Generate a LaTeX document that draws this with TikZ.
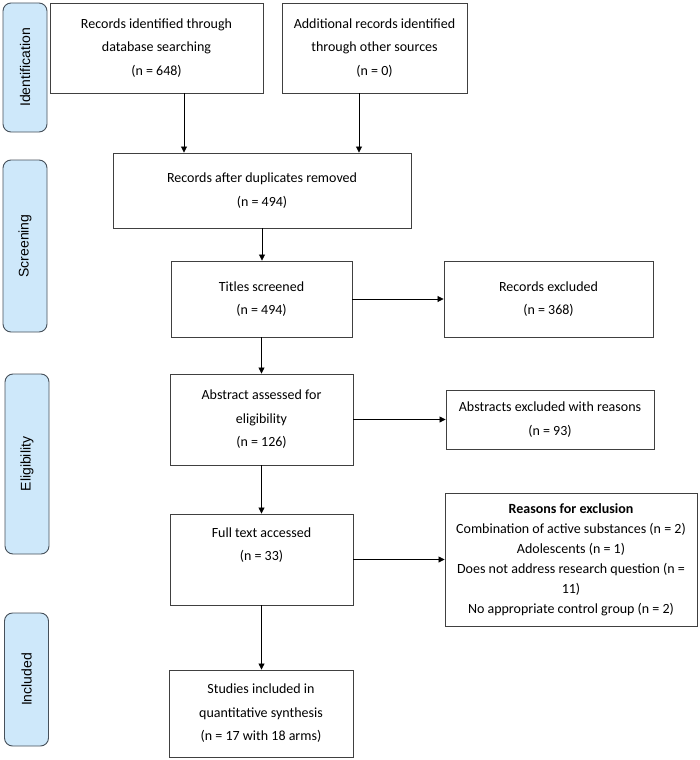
\documentclass[tikz,border=0pt]{standalone}
\usepackage{fontspec}
\setmainfont{Carlito}
\newfontfamily\stagefont{Liberation Sans}
\usepackage{tikz}
\usetikzlibrary{arrows.meta,positioning}
\definecolor{stageblue}{RGB}{206,232,250}
\definecolor{stageedge}{RGB}{70,80,90}
\definecolor{boxedge}{RGB}{64,64,64}

\begin{document}
\begin{tikzpicture}[x=1pt, y=-1pt,
        box/.style={draw=boxedge, line width=0.9pt, inner sep=0pt, align=center,
            font=\fontsize{14}{23.5}\selectfont},
        stage/.style={draw=stageedge, fill=stageblue, line width=0.9pt, rounded corners=8pt,
            rotate=90, minimum height=44, font=\stagefont\fontsize{14}{17}\selectfont},
        arrow/.style={-{Triangle[length=6pt, width=6pt]}, line width=0.8pt}
    ]
        \useasboundingbox (0,0) rectangle (700,760);

        % Phasen links
        \node[stage, minimum width=129] (ident) at (25,67.5) {Identification};
        \node[stage, minimum width=172] (screen) at (25,246) {Screening};
        \node[stage, minimum width=180] (elig) at (27,464) {Eligibility};
        \node[stage, minimum width=133] (incl) at (26.5,679.5) {Included};

        % Identifikation
        \node[box, minimum width=213, minimum height=90] (db) at (156.5,48)
            {Records identified through\\database searching\\(n = 648)};
        \node[box, minimum width=185, minimum height=90] (other) at (374.5,48)
            {Additional records identified\\through other sources\\(n = 0)};

        % Screening
        \node[box, minimum width=298, minimum height=75] (dup) at (262,190.5)
            {Records after duplicates removed\\(n = 494)};
        \node[box, minimum width=181, minimum height=76] (titles) at (261.5,299)
            {Titles screened\\(n = 494)};
        \node[box, minimum width=209, minimum height=76] (recexcl) at (548.5,299)
            {Records excluded\\(n = 368)};

        % Eignung
        \node[box, minimum width=183, minimum height=91] (abstract) at (261.5,419.5)
            {Abstract assessed for\\eligibility\\(n = 126)};
        \node[box, minimum width=208, minimum height=59] (absexcl) at (550,419.5)
            {Abstracts excluded with reasons\\(n = 93)};
        \node[box, minimum width=183, minimum height=91] (full) at (261.5,559.5)
            {Full text accessed\\(n = 33)\\[0pt]\strut};
        \node[box, minimum width=252, minimum height=133, font=\fontsize{14}{20}\selectfont] (reasons) at (571,559.5)
            {\textbf{Reasons for exclusion}\\Combination of active substances (n = 2)\\Adolescents (n = 1)\\
             Does not address research question (n =\\11)\\No appropriate control group (n = 2)};

        % Eingeschlossen
        \node[box, minimum width=184, minimum height=87] (studies) at (261,713.5)
            {Studies included in\\quantitative synthesis\\(n = 17 with 18 arms)};

        % Pfeile
        \draw[arrow] ([xshift=27.5pt]db.south) -- ([xshift=27.5pt]db.south |- dup.north);
        \draw[arrow] ([xshift=-15.5pt]other.south) -- ([xshift=-15.5pt]other.south |- dup.north);
        \draw[arrow] (dup.south) -- (dup.south |- titles.north);
        \draw[arrow] (titles) -- (recexcl);
        \draw[arrow] (titles.south) -- (titles.south |- abstract.north);
        \draw[arrow] (abstract) -- (absexcl);
        \draw[arrow] (abstract.south) -- (abstract.south |- full.north);
        \draw[arrow] (full) -- (reasons);
        \draw[arrow] (full.south) -- (full.south |- studies.north);
    \end{tikzpicture}
\end{document}
